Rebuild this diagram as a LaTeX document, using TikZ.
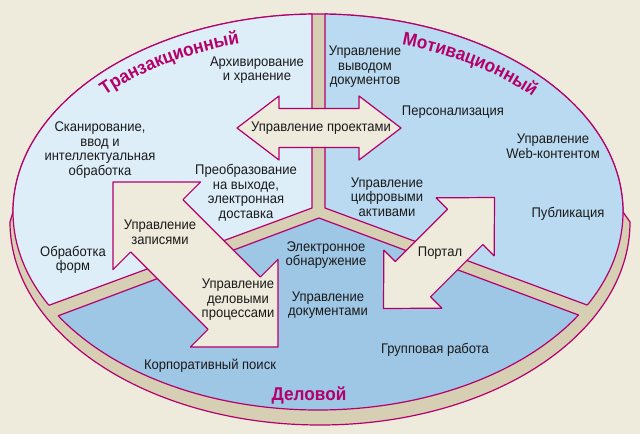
\documentclass[tikz,border=0pt]{standalone}
\usepackage{fontspec}
\setmainfont{Liberation Sans}[FakeStretch=0.93]
\usetikzlibrary{decorations.text}

\definecolor{bg}{HTML}{EEEADC}
\definecolor{tan}{HTML}{D7CFB4}
\definecolor{mag}{HTML}{B3006B}
\definecolor{lblue}{HTML}{DDEEF9}
\definecolor{mblue}{HTML}{B9DAF0}
\definecolor{dblue}{HTML}{9EC6E5}
\definecolor{ink}{HTML}{1A1A1A}

\newcommand{\ttlfont}{\fontsize{18.5}{18.5}\selectfont\bfseries\color{mag}}
\newcommand{\dblarrow}[4]{%
  \draw[arrowbox] (-#1,0) -- (-#1+#4,#3) -- (-#1+#4,#2) -- (#1-#4,#2) -- (#1-#4,#3) -- (#1,0)
    -- (#1-#4,-#3) -- (#1-#4,-#2) -- (-#1+#4,-#2) -- (-#1+#4,-#3) -- cycle;}

\begin{document}
\begin{tikzpicture}[x=1pt, y=-1pt, line join=round,
  edge/.style={draw=mag, line width=1.2pt},
  arrowbox/.style={edge, fill=bg},
  lbl/.style={align=center, text=ink, inner sep=0pt, font=\fontsize{14}{14.5}\selectfont}]
  \fill[bg] (0,0) rectangle (640,434);
  \useasboundingbox (0,0) rectangle (640,434);

  \filldraw[edge, fill=tan] (13,212) arc[start angle=180, end angle=0, x radius=305pt, y radius=198pt]
    -- (630,222) arc[start angle=0, end angle=-180, x radius=310pt, y radius=203pt] -- cycle;

  \begin{scope}
    \clip (0,0) -- (312,0) -- (312,208) -- (0,323.4) -- cycle;
    \filldraw[edge, fill=lblue] (318,212) ellipse [x radius=305pt, y radius=198pt];
  \end{scope}
  \begin{scope}
    \clip (640,0) -- (325,0) -- (325,208) -- (640,324.6) -- cycle;
    \filldraw[edge, fill=mblue] (318,212) ellipse [x radius=305pt, y radius=198pt];
  \end{scope}
  \begin{scope}
    \clip (0,337.6) -- (319,218) -- (640,338) -- (640,434) -- (0,434) -- cycle;
    \filldraw[edge, fill=dblue] (318,212) ellipse [x radius=305pt, y radius=198pt];
  \end{scope}
  \begin{scope}
    \clip (318,212) ellipse [x radius=305pt, y radius=198pt];
    \draw[edge] (312,0) -- (312,208) -- (0,323.4);
    \draw[edge] (325,0) -- (325,208) -- (640,324.6);
    \draw[edge] (0,337.6) -- (319,218) -- (640,338);
  \end{scope}

  \begin{scope}[shift={(319,128)}] \dblarrow{82}{19.5}{32}{42} \end{scope}
  \begin{scope}[shift={(195.5,264.5)}, rotate=-45] \dblarrow{116.7}{37}{62}{62} \end{scope}
  \begin{scope}[shift={(439,253)}, rotate=45] \dblarrow{78.5}{25}{41}{41.5} \end{scope}

  \path[decorate, decoration={text along path, text align=center, text={|\ttlfont|Транзакционный}}]
    (93.4,104.3) arc[start angle=142, end angle=103, x radius=285pt, y radius=175pt];
  \path[decorate, decoration={text along path, text align=center, text={|\ttlfont|Мотивационный}}]
    (382,41.5) arc[start angle=77, end angle=36, x radius=285pt, y radius=175pt];
  \node [inner sep=0pt, font=\ttlfont] (biz) at (309,395) {Деловой};

  \node [lbl] (proj) at (321,128) {Управление проектами};
  \node [lbl] (arch) at (257,70) {Архивирование\\и хранение};
  \node [lbl] (scan) at (100,150) {Сканирование,\\ввод и\\интеллектуальная\\обработка};
  \node [lbl] (conv) at (246,193) {Преобразование\\на выходе,\\электронная\\доставка};
  \node [lbl] (outdoc) at (365,67) {Управление\\выводом\\документов};
  \node [lbl] (pers) at (453,112) {Персонализация};
  \node [lbl] (web) at (553,146) {Управление\\Web-контентом};
  \node [lbl] (publ) at (568,214) {Публикация};
  \node [lbl] (digit) at (387,197) {Управление\\цифровыми\\активами};
  \node [lbl] (rec) at (160,232) {Управление\\записями};
  \node [lbl] (forms) at (73,260) {Обработка\\форм};
  \node [lbl] (bpm) at (238,300) {Управление\\деловыми\\процессами};
  \node [lbl] (edisc) at (326,255) {Электронное\\обнаружение};
  \node [lbl] (docm) at (328,305) {Управление\\документами};
  \node [lbl] (portal) at (440,253) {Портал};
  \node [lbl] (search) at (210,366) {Корпоративный поиск};
  \node [lbl] (group) at (435,350) {Групповая работа};
\end{tikzpicture}
\end{document}
